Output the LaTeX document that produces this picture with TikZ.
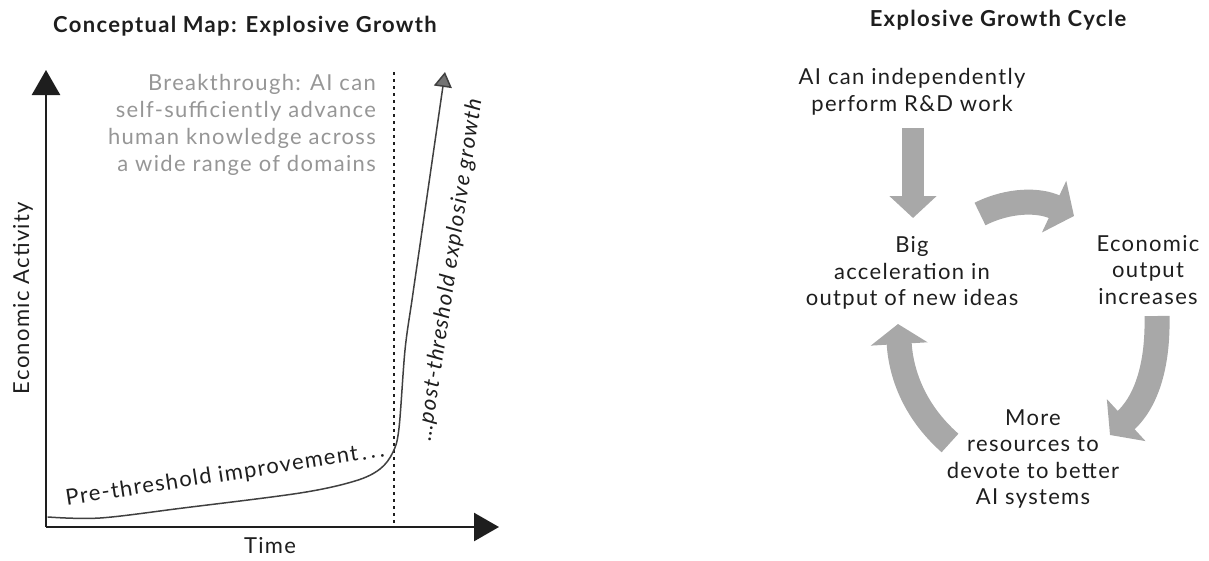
\documentclass[tikz,border=0pt]{standalone}
\usepackage{fontspec}
\setmainfont{Lato}[LetterSpace=6]
\usetikzlibrary{arrows.meta}
\definecolor{arrowgray}{RGB}{168,168,168}
\definecolor{notegray}{RGB}{150,150,150}
\definecolor{ink}{RGB}{30,30,30}
\begin{document}
\begin{tikzpicture}[x=1pt,y=-1pt,
  lbl/.style={font=\fontsize{22}{26.5}\selectfont, text=ink, inner sep=0pt, align=center},
  ttl/.style={font=\fontsize{22}{24}\selectfont\bfseries, text=ink, inner sep=0pt},
  axis/.style={line width=2.6pt, ink, -{Triangle[width=28pt,length=25pt]}},
  band/.style={line width=25pt, arrowgray},
]
\useasboundingbox (0,0) rectangle (1209,560);
% ---------- left panel ----------
\node[ttl] (title1) at (245,26) {Conceptual Map: Explosive Growth};
\coordinate (O) at (46,527);
\coordinate (ytop) at (46,70);
\coordinate (xend) at (499,527);
\draw[axis] (O) -- (ytop);
\draw[axis] (O) -- (xend);
\coordinate (d1) at (394,72);
\coordinate (d2) at (394,527);
\draw[line width=1.4pt, ink, dash pattern=on 3pt off 4pt] (d1) -- (d2);
\draw[line width=1.5pt, ink!85, line cap=round, line join=round]
  plot[smooth, tension=0.55] coordinates {(48,517) (100,518) (183,508) (300,493) (355,481) (380,469) (393,452) (399,428) (405,350) (412,300) (420,245)};
\coordinate (c1) at (420,245);
\coordinate (c2) at (445,72);
\draw[line width=1.5pt, ink!85, -{Triangle[width=18pt,length=15pt,fill=black!55]}] (c1) -- (c2);
\node[lbl, rotate=90] (ylab) at (23,298) {Economic Activity};
\node[lbl] (xlab) at (270,546) {Time};
\node[lbl, rotate=8.7, anchor=base] (pre) at (226,481) {Pre-threshold improvement\,.\,.\,.};
\node[lbl, rotate=81.5, font=\fontsize{22}{26}\selectfont\itshape] (post) at (450,270) {…post-threshold explosive growth};
\node[lbl, text=notegray, align=right, anchor=north east, font=\fontsize{22}{27}\selectfont] (note) at (376,74)
  {Breakthrough: AI can\\self-sufficiently advance\\human knowledge across\\a wide range of domains};
% ---------- right panel ----------
\node[ttl] (title2) at (998,20) {Explosive Growth Cycle};
\node[lbl] (n1) at (912,92) {AI can independently\\perform R\&D work};
\node[lbl] (n2) at (912,273) {Big\\acceleration in\\output of new ideas};
\node[lbl] (n3) at (1148,270) {Economic\\output\\increases};
\node[lbl] (n4) at (1033,459) {More\\resources to\\devote to better\\AI systems};
\coordinate (a1s) at (913,128);
\coordinate (a1e) at (913,218);
\draw[line width=22pt, arrowgray, -{Triangle[width=46pt,length=22pt]}] (a1s) -- (a1e);
\coordinate (a2s) at (980,214);
\coordinate (a2e) at (1074,216);
\draw[band, -{Triangle[width=56pt,length=22pt]}] (a2s) .. controls (1010,199) and (1040,200) .. (a2e);
\coordinate (a3s) at (1157,316);
\coordinate (a3e) at (1110,435);
\draw[band, -{Triangle[width=56pt,length=22pt]}] (a3s) .. controls (1158,362) and (1148,400) .. (a3e);
\coordinate (a4s) at (950,443);
\coordinate (a4e) at (898,324);
\draw[band, -{Triangle[width=56pt,length=20pt]}] (a4s) .. controls (915,412) and (901,375) .. (a4e);
\end{tikzpicture}
\end{document}
